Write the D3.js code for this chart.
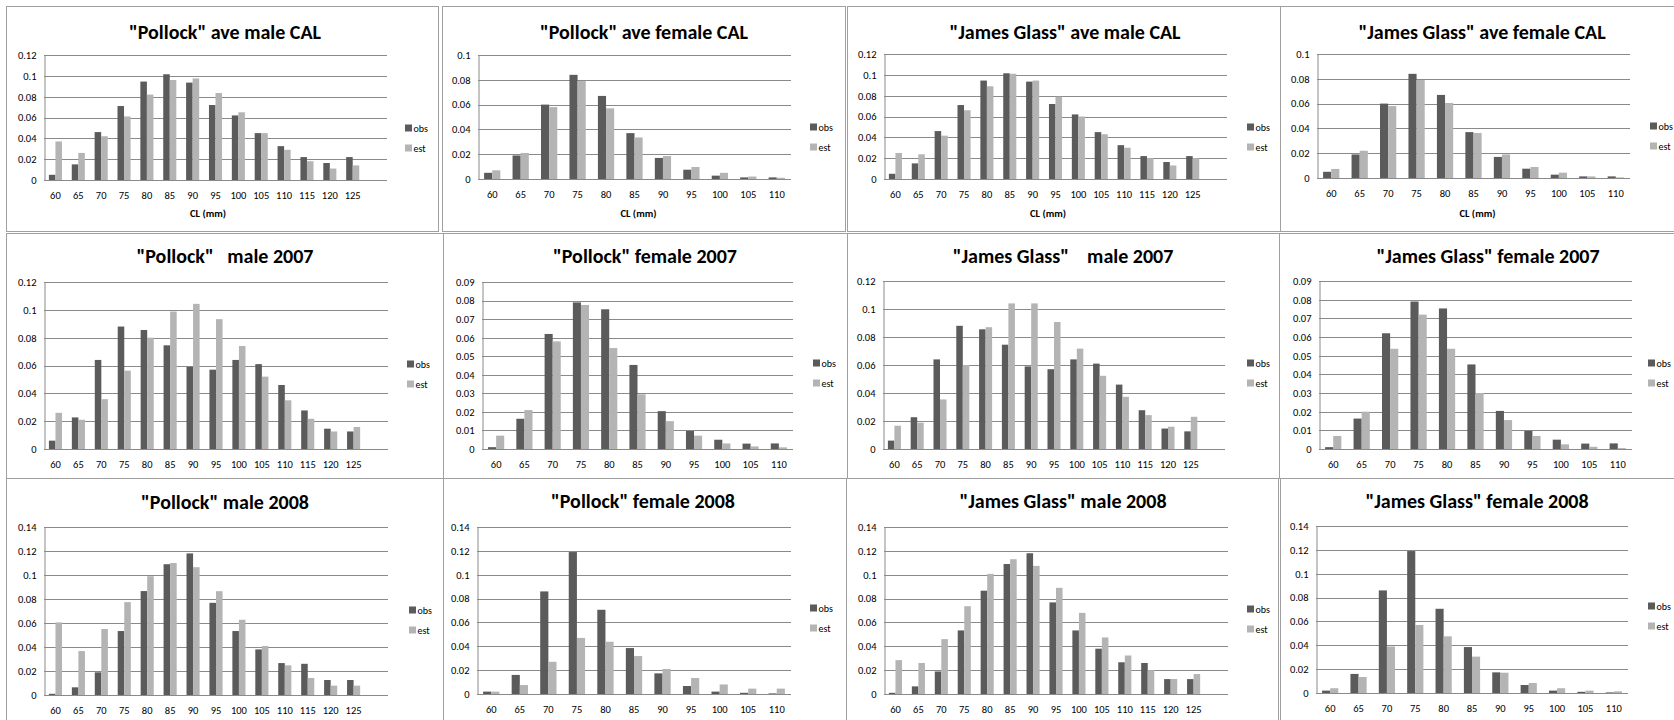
<!DOCTYPE html>
<html>
<head>
<meta charset="utf-8">
<script src="https://cdn.jsdelivr.net/npm/d3@7"></script>
<style>
  html, body { margin: 0; padding: 0; background: #fff; }
  svg { display: block; }
  text { font-family: Carlito, Calibri, Lato, sans-serif; fill: #000; }
</style>
</head>
<body>
<svg id="chart" width="1674" height="720"></svg>
<script>
// Carapace length classes (mm)
const maleLengths = [60, 65, 70, 75, 80, 85, 90, 95, 100, 105, 110, 115, 120, 125];
const femaleLengths = [60, 65, 70, 75, 80, 85, 90, 95, 100, 105, 110];

// Value-axis tick labels
const ticks010 = [0, 0.02, 0.04, 0.06, 0.08, 0.1];
const ticks012 = [0, 0.02, 0.04, 0.06, 0.08, 0.1, 0.12];
const ticks014 = [0, 0.02, 0.04, 0.06, 0.08, 0.1, 0.12, 0.14];
const ticks009 = [0, 0.01, 0.02, 0.03, 0.04, 0.05, 0.06, 0.07, 0.08, 0.09];

const seriesNames = ["obs", "est"];

// Average CAL
const maleCalObs = [0.005, 0.015, 0.046, 0.071, 0.0945, 0.1015, 0.0935, 0.072, 0.062, 0.045, 0.0325, 0.022, 0.0163, 0.022];
const pollockMaleCalEst = [0.037, 0.026, 0.042, 0.061, 0.082, 0.096, 0.0975, 0.0835, 0.065, 0.045, 0.029, 0.018, 0.011, 0.014];
const jamesMaleCalEst = [0.025, 0.0237, 0.0416, 0.066, 0.089, 0.101, 0.0945, 0.079, 0.060, 0.043, 0.030, 0.020, 0.013, 0.020];

const femaleCalObs = [0.005, 0.019, 0.060, 0.084, 0.067, 0.037, 0.017, 0.0075, 0.0027, 0.0013, 0.0013];
const pollockFemaleCalEst = [0.007, 0.021, 0.058, 0.079, 0.057, 0.0335, 0.0185, 0.0097, 0.005, 0.002, 0.001];
const jamesFemaleCalEst = [0.0073, 0.022, 0.058, 0.079, 0.0605, 0.0363, 0.019, 0.0089, 0.0043, 0.0013, 0.0005];

// 2007
const male2007Obs = [0.006, 0.0227, 0.064, 0.088, 0.0855, 0.0745, 0.059, 0.057, 0.064, 0.061, 0.046, 0.0277, 0.0146, 0.0126];
const pollockMale2007Est = [0.026, 0.021, 0.0358, 0.0563, 0.080, 0.0988, 0.1043, 0.0933, 0.074, 0.052, 0.035, 0.0217, 0.0126, 0.0158];
const jamesMale2007Est = [0.0166, 0.0188, 0.0354, 0.060, 0.087, 0.104, 0.104, 0.0907, 0.0717, 0.0523, 0.0373, 0.0242, 0.0159, 0.023];

const female2007Obs = [0.001, 0.0163, 0.062, 0.079, 0.0753, 0.0453, 0.0204, 0.0097, 0.005, 0.0029, 0.003];
const pollockFemale2007Est = [0.0072, 0.021, 0.058, 0.0776, 0.0544, 0.0295, 0.015, 0.0072, 0.003, 0.0014, 0.0009];
const jamesFemale2007Est = [0.007, 0.020, 0.0537, 0.072, 0.0537, 0.030, 0.0155, 0.007, 0.0025, 0.0012, 0.0005];

// 2008
const male2008Obs = [0.001, 0.0064, 0.0189, 0.0533, 0.0866, 0.109, 0.118, 0.0768, 0.0533, 0.038, 0.0266, 0.026, 0.0125, 0.0125];
const pollockMale2008Est = [0.0605, 0.0366, 0.055, 0.0774, 0.099, 0.110, 0.1065, 0.0865, 0.0627, 0.0408, 0.0247, 0.0142, 0.0078, 0.0078];
const jamesMale2008Est = [0.0284, 0.026, 0.046, 0.0736, 0.1007, 0.113, 0.1074, 0.089, 0.068, 0.0474, 0.0323, 0.020, 0.0126, 0.0167];

const female2008Obs = [0.002, 0.016, 0.086, 0.119, 0.0706, 0.0385, 0.0173, 0.0067, 0.002, 0.001, 0.0005];
const pollockFemale2008Est = [0.002, 0.0075, 0.027, 0.047, 0.0438, 0.0318, 0.021, 0.0134, 0.008, 0.0045, 0.0045];
const jamesFemale2008Est = [0.004, 0.0134, 0.039, 0.057, 0.0475, 0.0305, 0.017, 0.0084, 0.004, 0.002, 0.0014];

const titles = [
  '"Pollock" ave male CAL', '"Pollock" ave female CAL', '"James Glass" ave male CAL', '"James Glass" ave female CAL',
  '"Pollock"   male 2007', '"Pollock" female 2007', '"James Glass"    male 2007', '"James Glass" female 2007',
  '"Pollock" male 2008', '"Pollock" female 2008', '"James Glass" male 2008', '"James Glass" female 2008'
];

// Chart definitions: categories, ticks and the two series
const charts = [
  { cats: maleLengths,   ticks: ticks012, obs: maleCalObs,    est: pollockMaleCalEst },
  { cats: femaleLengths, ticks: ticks010, obs: femaleCalObs,  est: pollockFemaleCalEst },
  { cats: maleLengths,   ticks: ticks012, obs: maleCalObs,    est: jamesMaleCalEst },
  { cats: femaleLengths, ticks: ticks010, obs: femaleCalObs,  est: jamesFemaleCalEst },
  { cats: maleLengths,   ticks: ticks012, obs: male2007Obs,   est: pollockMale2007Est },
  { cats: femaleLengths, ticks: ticks009, obs: female2007Obs, est: pollockFemale2007Est },
  { cats: maleLengths,   ticks: ticks012, obs: male2007Obs,   est: jamesMale2007Est },
  { cats: femaleLengths, ticks: ticks009, obs: female2007Obs, est: jamesFemale2007Est },
  { cats: maleLengths,   ticks: ticks014, obs: male2008Obs,   est: pollockMale2008Est },
  { cats: femaleLengths, ticks: ticks014, obs: female2008Obs, est: pollockFemale2008Est },
  { cats: maleLengths,   ticks: ticks014, obs: male2008Obs,   est: jamesMale2008Est },
  { cats: femaleLengths, ticks: ticks014, obs: female2008Obs, est: jamesFemale2008Est }
];

// Page layout of each chart object: frame, plot area, title, legend
const layout = [
  { fx: 6,    fy: 6,   fw: 432, fh: 225, l: 44,   t: 55,  r: 387,  b: 180, slots: 15, tx: 225,  ty: 32,  lx: 405,  ly: 128, xt: 213 },
  { fx: 442,  fy: 6,   fw: 403, fh: 225, l: 478,  t: 55,  r: 791,  b: 179, slots: 11, tx: 644,  ty: 32,  lx: 810,  ly: 127, xt: 213 },
  { fx: 847,  fy: 6,   fw: 433, fh: 225, l: 884,  t: 54,  r: 1227, b: 179, slots: 15, tx: 1065, ty: 32,  lx: 1247, ly: 127, xt: 213 },
  { fx: 1280, fy: 6,   fw: 400, fh: 225, l: 1317, t: 54,  r: 1630, b: 178, slots: 11, tx: 1482, ty: 32,  lx: 1650, ly: 126, xt: 213 },
  { fx: 6,    fy: 233, fw: 437, fh: 245, l: 44,   t: 282, r: 388,  b: 449, slots: 15, tx: 225,  ty: 256, lx: 407,  ly: 364 },
  { fx: 443,  fy: 233, fw: 404, fh: 245, l: 482,  t: 282, r: 793,  b: 449, slots: 11, tx: 645,  ty: 256, lx: 813,  ly: 363 },
  { fx: 847,  fy: 233, fw: 434, fh: 245, l: 883,  t: 281, r: 1225, b: 449, slots: 15, tx: 1063, ty: 256, lx: 1247, ly: 363 },
  { fx: 1279, fy: 233, fw: 400, fh: 245, l: 1319, t: 281, r: 1632, b: 449, slots: 11, tx: 1488, ty: 256, lx: 1648, ly: 363 },
  { fx: 6,    fy: 478, fw: 437, fh: 250, l: 44,   t: 527, r: 388,  b: 695, slots: 15, tx: 225,  ty: 502, lx: 409,  ly: 610 },
  { fx: 443,  fy: 478, fw: 403, fh: 250, l: 477,  t: 527, r: 791,  b: 694, slots: 11, tx: 643,  ty: 501, lx: 810,  ly: 608 },
  { fx: 846,  fy: 478, fw: 432, fh: 250, l: 884,  t: 527, r: 1228, b: 694, slots: 15, tx: 1063, ty: 501, lx: 1247, ly: 609 },
  { fx: 1280, fy: 478, fw: 400, fh: 250, l: 1316, t: 526, r: 1628, b: 693, slots: 11, tx: 1477, ty: 501, lx: 1648, ly: 606 }
];

const colors = { obs: "#5b5b5b", est: "#b4b4b4" };
const gridColor = "#8a8a8a";

const svg = d3.select("#chart");

charts.forEach((c, i) => {
  const L = layout[i];
  const g = svg.append("g");

  // chart object frame
  g.append("rect")
    .attr("x", L.fx + 0.5).attr("y", L.fy + 0.5)
    .attr("width", L.fw).attr("height", L.fh)
    .attr("fill", "#fff").attr("stroke", "#a0a0a0").attr("stroke-width", 1);

  const y = d3.scaleLinear()
    .domain([0, d3.max(c.ticks)])
    .range([L.b, L.t]);

  const catEnd = L.l + (L.r - L.l) * c.cats.length / L.slots;
  const x = d3.scaleBand().domain(c.cats).range([L.l, catEnd]).padding(0);
  const xs = d3.scaleBand().domain(seriesNames).range([0, x.bandwidth()])
    .paddingInner(0).paddingOuter(0.75);

  // horizontal gridlines
  g.append("g").selectAll("line")
    .data(c.ticks.filter(v => v > 0))
    .join("line")
    .attr("x1", L.l).attr("x2", L.r)
    .attr("y1", d => Math.round(y(d)) + 0.5).attr("y2", d => Math.round(y(d)) + 0.5)
    .attr("stroke", gridColor).attr("stroke-width", 1);

  // bars
  const rows = c.cats.map((cat, k) => ({ cat, obs: c.obs[k], est: c.est[k] }));
  g.append("g").selectAll("g")
    .data(rows)
    .join("g")
    .attr("transform", d => `translate(${x(d.cat)},0)`)
    .selectAll("rect")
    .data(d => seriesNames.map(s => ({ s, v: d[s] })))
    .join("rect")
    .attr("x", d => xs(d.s))
    .attr("width", xs.bandwidth())
    .attr("y", d => y(d.v))
    .attr("height", d => y(0) - y(d.v))
    .attr("fill", d => colors[d.s]);

  // value axis
  const yAxis = g.append("g")
    .attr("transform", `translate(${L.l + 0.5},0)`)
    .call(d3.axisLeft(y).tickValues(c.ticks).tickSize(0).tickPadding(8)
      .tickFormat(d => String(+d.toFixed(2))));
  yAxis.select(".domain").attr("stroke", gridColor);
  yAxis.selectAll("text").attr("font-size", 10.5).attr("font-family", null);

  // category axis
  const xAxis = g.append("g")
    .attr("transform", `translate(0,${Math.round(L.b) + 0.5})`)
    .call(d3.axisBottom(x).tickSize(0).tickPadding(11));
  xAxis.select(".domain").remove();
  g.append("line")
    .attr("x1", L.l).attr("x2", L.r)
    .attr("y1", Math.round(L.b) + 0.5).attr("y2", Math.round(L.b) + 0.5)
    .attr("stroke", gridColor);
  xAxis.selectAll("text").attr("font-size", 10.5).attr("font-family", null);

  // title
  g.append("text")
    .attr("x", L.tx).attr("y", L.ty).attr("dy", "0.35em")
    .attr("text-anchor", "middle")
    .attr("font-weight", "bold").attr("font-size", 20)
    .style("white-space", "pre")
    .text(titles[i]);

  if (L.xt) {
    g.append("text")
      .attr("x", (L.l + catEnd) / 2 + 4).attr("y", L.xt).attr("dy", "0.35em")
      .attr("text-anchor", "middle")
      .attr("font-weight", "bold").attr("font-size", 10.5)
      .text("CL (mm)");
  }

  // legend
  const lg = g.append("g").attr("transform", `translate(${L.lx},${L.ly})`);
  seriesNames.forEach((s, k) => {
    lg.append("rect").attr("x", 0).attr("y", k * 20 - 3.5).attr("width", 7).attr("height", 7)
      .attr("fill", colors[s]);
    lg.append("text").attr("x", 8.5).attr("y", k * 20).attr("dy", "0.35em")
      .attr("font-size", 10).text(s);
  });
});
</script>
</body>
</html>
